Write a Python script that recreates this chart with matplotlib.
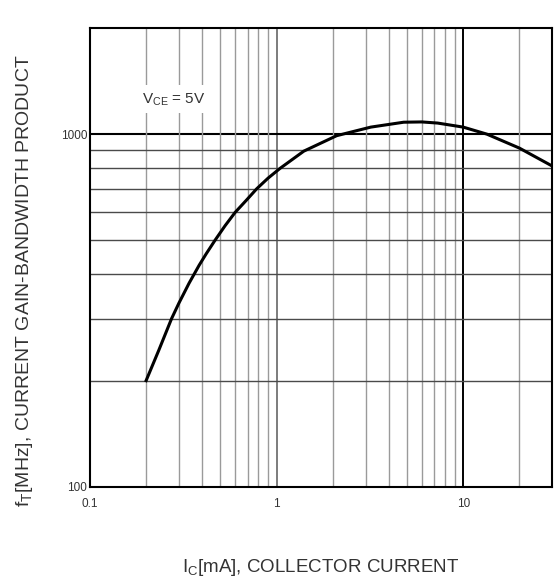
import matplotlib.pyplot as plt
from matplotlib.ticker import FixedLocator, NullFormatter

plt.rcParams["font.family"] = ["Liberation Sans", "DejaVu Sans"]

# curve: Ic [mA] vs fT [MHz]
ic_ma = [0.2, 0.234, 0.274, 0.3, 0.34, 0.385, 0.42, 0.468, 0.53, 0.6, 0.69,
         0.783, 0.9, 1.045, 1.4, 2.1, 3.2, 4.8, 6.0, 7.3, 10, 13.4, 20, 30]
ft_mhz = [200, 244, 300, 332, 378, 425, 458, 500, 550, 600, 650,
          700, 750, 800, 895, 990, 1047, 1081, 1083, 1075, 1047, 1000, 913, 812]

x_major = [0.1, 1, 10]
x_major_labels = ["0.1", "1", "10"]
x_minor = [0.2, 0.3, 0.4, 0.5, 0.6, 0.7, 0.8, 0.9,
           2, 3, 4, 5, 6, 7, 8, 9, 20]
y_major = [100, 1000]
y_major_labels = ["100", "1000"]
y_minor = [200, 300, 400, 500, 600, 700, 800, 900]

fig = plt.figure(figsize=(5.55, 5.83), dpi=100)
ax = fig.add_axes([0.162, 0.165, 0.833, 0.787])
ax.set_xscale("log")
ax.set_yscale("log")
ax.set_xlim(0.1, 30)
ax.set_ylim(100, 2000)

ax.xaxis.set_major_locator(FixedLocator(x_major))
ax.set_xticklabels(x_major_labels)
ax.xaxis.set_minor_locator(FixedLocator(x_minor))
ax.xaxis.set_minor_formatter(NullFormatter())
ax.yaxis.set_major_locator(FixedLocator(y_major))
ax.set_yticklabels(y_major_labels)
ax.yaxis.set_minor_locator(FixedLocator(y_minor))
ax.yaxis.set_minor_formatter(NullFormatter())
ax.tick_params(which="both", length=0, labelsize=8.5, colors="#333333")
ax.tick_params(axis="x", pad=8)
ax.tick_params(axis="y", pad=2)

# grid: vertical lines lighter, horizontal darker, decade lines black
ax.grid(True, axis="x", which="minor", color="#9a9a9a", linewidth=1.0)
ax.grid(True, axis="y", which="minor", color="#4a4a4a", linewidth=1.0)
ax.axvline(1, color="#666666", linewidth=1.2, zorder=1)
ax.axvline(10, color="black", linewidth=1.4, zorder=1)
ax.axhline(1000, color="black", linewidth=1.5, zorder=1)

for s in ax.spines.values():
    s.set_linewidth(1.5)
    s.set_color("black")

ax.plot(ic_ma, ft_mhz, color="black", linewidth=2.2, zorder=3,
        solid_joinstyle="round")

ax.text(0.19, 1256, r"V$_{\mathregular{CE}}$ = 5V", fontsize=11, color="#333333",
        va="center", ha="left", zorder=4,
        bbox=dict(facecolor="white", edgecolor="none", pad=4))

ax.set_xlabel(r"I$_{\mathregular{C}}$[mA], COLLECTOR CURRENT", fontsize=13.5,
              color="#333333", labelpad=34)
ax.set_ylabel(r"f$_{\mathregular{T}}$[MHz], CURRENT GAIN-BANDWIDTH PRODUCT",
              fontsize=14, color="#333333")
ax.yaxis.set_label_coords(-0.118, 0.45)

fig.savefig("out.png", dpi=100)
